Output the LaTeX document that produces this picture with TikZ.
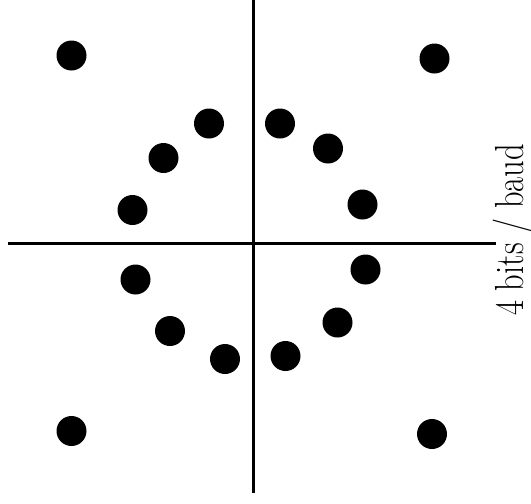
\documentclass[tikz,border=0pt]{standalone}
\usepackage{fontspec}
\begin{document}
\begin{tikzpicture}[x=1pt,y=-1pt,
  dotn/.style={circle,fill=black,inner sep=0pt,minimum size=30pt},
  axis/.style={line width=3pt}]
\useasboundingbox (0,0) rectangle (531,504);
\coordinate (L) at (8,243);
\coordinate (R) at (496,243);
\coordinate (T) at (253.5,0);
\coordinate (B) at (253.5,493);
\draw[axis] (L) -- (R);
\draw[axis] (T) -- (B);
\foreach \n/\x/\y in {a/71.5/55.5, b/434.5/58.5, c/209/123.5, d/280/123.5,
  e/163.5/158, f/328/148.5, g/132.5/210, h/362.5/204.5,
  i/135.5/279.5, j/365.5/269.5, k/170/331, l/337.5/322.5,
  m/225/359, n/285.5/356, o/71.5/431, p/432/434}
  \node[dotn] (\n) at (\x,\y) {};
\node[rotate=90,anchor=base,inner sep=0pt] (lab) at (523,230)
  {\scalebox{1}[1.25]{\fontsize{32.5}{32.5}\selectfont 4 bits / baud}};
\end{tikzpicture}
\end{document}
